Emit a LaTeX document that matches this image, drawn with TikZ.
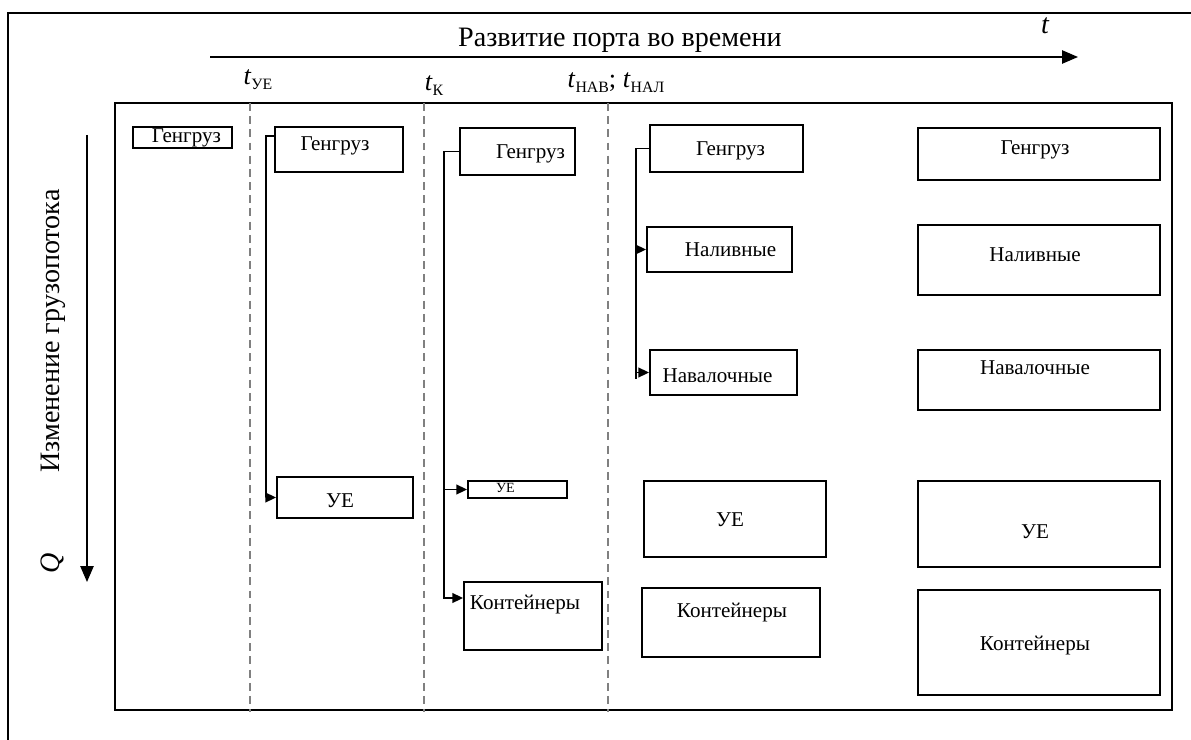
\documentclass[tikz,border=0pt]{standalone}
\usepackage{fontspec}
\setmainfont{Liberation Serif}
\usetikzlibrary{arrows.meta,fit}

\newcommand{\tmark}[1]{\textit{t}\raisebox{-0.4ex}{\fontsize{9}{10}\selectfont #1}}

\begin{document}
\begin{tikzpicture}
	[line join=miter,x=0.02cm,y=-0.02cm,
	 >={Triangle[length=6pt,width=5.5pt]},
	 cargo/.style={draw,line width=1.1pt,inner sep=0pt},
	 cargotext/.style={font=\fontsize{12}{14}\selectfont},
	 flow/.style={line width=0.9pt,->},
	 axis/.style={line width=0.9pt,-{Triangle[length=9pt,width=7.5pt]}},
	 period/.style={draw=gray,line width=0.8pt,dash pattern=on 4.5pt off 3pt}]
	\useasboundingbox (0,0) rectangle (1191,740);
	% outer frame and field
	\draw [line width=0.9pt] (8,740) -- (8,13) -- (1191,13);
	\node [draw,line width=1.2pt,inner sep=0pt,fit={(115,103) (1172,710)}] (field) {};
	\draw [period] (250,103) -- (250,712);
	\draw [period] (424,103) -- (424,712);
	\draw [period] (608,103) -- (608,712);
	% axes
	\coordinate (tstart) at (210,57);
	\coordinate (tend) at (1078,57);
	\draw [axis] (tstart) -- (tend);
	\node [font=\fontsize{16}{18}\selectfont] (title) at (620,40) {Развитие порта во времени};
	\node [font=\fontsize{16}{18}\selectfont\itshape] (tlabel) at (1045,26) {t};
	\coordinate (qtop) at (87,135);
	\coordinate (qend) at (87,582);
	\draw [axis] (qtop) -- (qend);
	\node [rotate=90,font=\fontsize{16}{18}\selectfont] (flowlabel) at (53,331) {Изменение грузопотока};
	\node [rotate=90,font=\fontsize{16}{18}\selectfont\itshape] (qlabel) at (52,563) {Q};
	% moments
	\node [font=\fontsize{15}{16}\selectfont] (tue) at (258,80) {\tmark{УЕ}};
	\node [font=\fontsize{15}{16}\selectfont] (tk) at (434,86) {\tmark{К}};
	\node [font=\fontsize{15}{16}\selectfont] (tnav) at (616,83) {\tmark{НАВ}; \tmark{НАЛ}};
	% column 1
	\node [cargo,fit={(133,127) (232,148)},label={[cargotext,shift={(4,0)}]center:Генгруз}] (gen1) {};
	% column 2
	\node [cargo,fit={(275,127) (403,172)},label={[cargotext,shift={(-4,-4)}]center:Генгруз}] (gen2) {};
	\node [cargo,fit={(277,477) (413,518)},label={[cargotext,shift={(-5,3)}]center:УЕ}] (ue2) {};
	\draw [flow] ([shift={(0,10)}]gen2.north west) -- ++(-8,0) |- (ue2.west);
	% column 3
	\node [cargo,fit={(460,128) (575,175)},label={[cargotext,shift={(13,2)}]center:Генгруз}] (gen3) {};
	\node [cargo,fit={(468,481) (567,498)},label={[font=\fontsize{8}{9}\selectfont,shift={(-12,-2)}]center:УЕ}] (ue3) {};
	\node [cargo,fit={(464,582) (602,650)},label={[cargotext,shift={(-8,-11)}]center:Контейнеры}] (kont3) {};
	\coordinate (kont3in) at ([shift={(0,-18)}]kont3.west);
	\draw [flow] (gen3.west) -- ++(-15,0) coordinate (fork3) |- (kont3in);
	\draw [flow] (fork3 |- ue3.west) -- (ue3.west);
	% column 4
	\node [cargo,fit={(650,125) (803,172)},label={[cargotext,shift={(4,2)}]center:Генгруз}] (gen4) {};
	\node [cargo,fit={(647,227) (792,272)},label={[cargotext,shift={(11,0)}]center:Наливные}] (nal4) {};
	\node [cargo,fit={(650,350) (797,395)},label={[cargotext,shift={(-6,3)}]center:Навалочные}] (nav4) {};
	\node [cargo,fit={(644,481) (826,557)},label={[cargotext,shift={(-5,1)}]center:УЕ}] (ue4) {};
	\node [cargo,fit={(642,588) (820,657)},label={[cargotext,shift={(1,-10)}]center:Контейнеры}] (kont4) {};
	\draw [line width=0.9pt] (gen4.west) -- ++(-13,0) coordinate (fork4) -- ([shift={(0,6)}]fork4 |- nav4.west);
	\draw [flow] (fork4 |- nal4.west) -- (nal4.west);
	\draw [flow] (fork4 |- nav4.west) -- (nav4.west);
	% column 5
	\node [cargo,fit={(918,128) (1160,180)},label={[cargotext,shift={(-4,-4)}]center:Генгруз}] (gen5) {};
	\node [cargo,fit={(918,225) (1160,295)},label={[cargotext,shift={(-4,-5)}]center:Наливные}] (nal5) {};
	\node [cargo,fit={(918,350) (1160,410)},label={[cargotext,shift={(-4,-12)}]center:Навалочные}] (nav5) {};
	\node [cargo,fit={(918,481) (1160,567)},label={[cargotext,shift={(-4,8)}]center:УЕ}] (ue5) {};
	\node [cargo,fit={(918,590) (1160,695)},label={[cargotext,shift={(-4,3)}]center:Контейнеры}] (kont5) {};
\end{tikzpicture}
\end{document}
